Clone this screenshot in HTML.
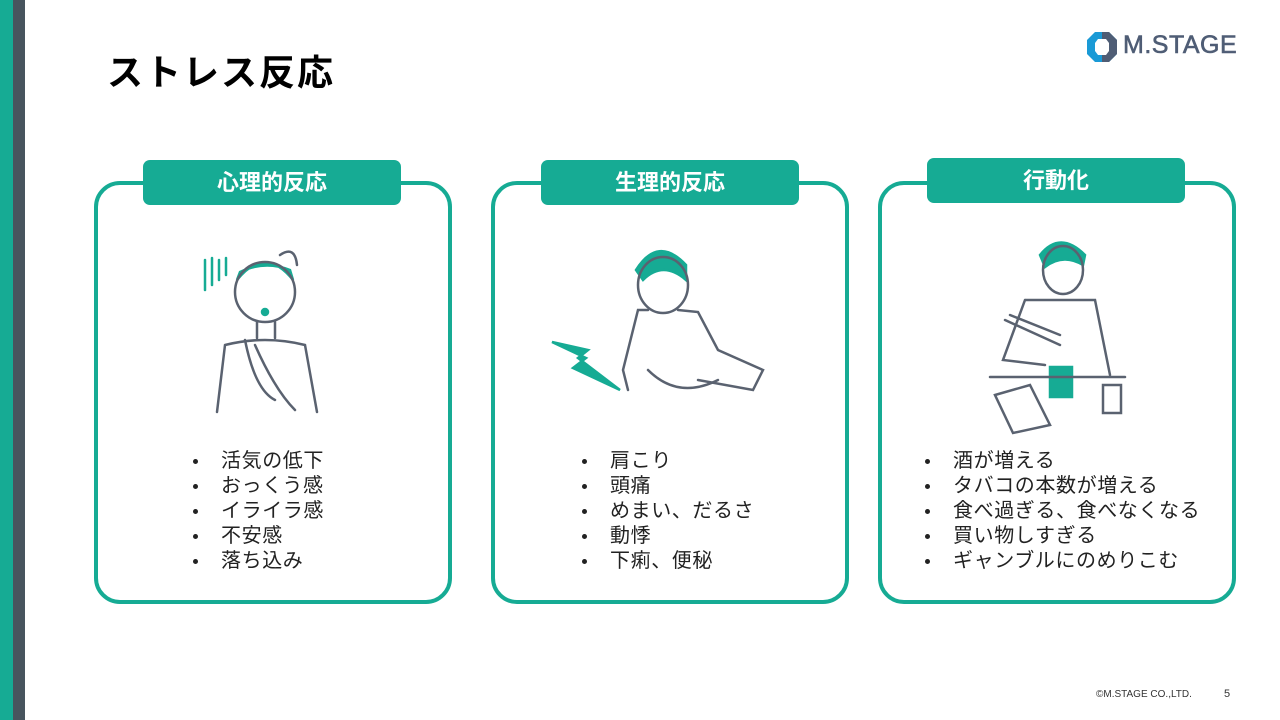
<!DOCTYPE html>
<html><head><meta charset="utf-8"><style>
*{margin:0;padding:0;box-sizing:border-box}
body{width:1280px;height:720px;position:relative;background:#fff;overflow:hidden;font-family:"Liberation Sans","Noto Sans CJK JP",sans-serif}
.a{position:absolute}
.card{position:absolute;border:4px solid #16ab94;border-radius:26px;background:#fff}
.lab{position:absolute;background:#16ab94;border-radius:7px;color:#fff;font-weight:bold;font-size:22px;text-align:center;line-height:45px;height:45px;width:258px}
ul{position:absolute;list-style:none;font-size:20px;letter-spacing:0.6px;line-height:25px;color:#222}
ul li{position:relative;padding-left:28px}
ul li:before{content:"";position:absolute;left:0;top:10px;width:5px;height:5px;border-radius:50%;background:#222}
svg{position:absolute}
</style></head><body>
<div class="a" style="left:0;top:0;width:13px;height:720px;background:#16ab94"></div>
<div class="a" style="left:13px;top:0;width:12px;height:720px;background:#48555e"></div>
<div class="a" style="left:107px;top:44px;font-size:36px;font-weight:bold;color:#000;letter-spacing:2px">ストレス反応</div>
<svg style="left:1086px;top:31px" width="32" height="32" viewBox="0 0 32 32"><polygon points="9,1 23,1 31,9 31,23 23,31 9,31 1,23 1,9" fill="#1a9ad6"/><polygon points="16,1 23,1 31,9 31,23 23,31 16,31" fill="#4f5d75"/><polygon points="12,8 20,8 23,12 23,20 20,24 12,24 9,20 9,12" fill="#fff"/></svg>
<div class="a" style="left:1123px;top:31px;font-size:25px;color:#4f5d75;letter-spacing:0.5px;-webkit-text-stroke:0.6px #4f5d75">M.STAGE</div>

<div class="card" style="left:94px;top:181px;width:358px;height:423px"></div>
<div class="lab" style="left:143px;top:160px">心理的反応</div>
<div class="card" style="left:491px;top:181px;width:358px;height:423px"></div>
<div class="lab" style="left:541px;top:160px">生理的反応</div>
<div class="card" style="left:878px;top:181px;width:358px;height:423px"></div>
<div class="lab" style="left:927px;top:158px">行動化</div>

<svg style="left:195px;top:240px" width="140" height="180" viewBox="0 0 140 180" fill="none" stroke="#5a6270" stroke-width="2.5" stroke-linecap="round">
<g stroke="#16ab94"><line x1="10" y1="20" x2="10" y2="50"/><line x1="17" y1="18" x2="17" y2="45"/><line x1="24" y1="20" x2="24" y2="40"/><line x1="31" y1="18" x2="31" y2="35"/></g>
<path d="M42 40 Q70 5 98 40 L95 30 Q70 20 45 32 Z" fill="#16ab94" stroke="#16ab94"/>
<ellipse cx="70" cy="52" rx="30" ry="30"/>
<path d="M85 15 Q100 5 102 25"/>
<path d="M62 82 L62 98 M80 82 L80 98"/>
<path d="M30 105 Q70 95 110 105 L122 172 M30 105 L22 172"/>
<path d="M50 100 Q60 150 80 160 M60 105 Q80 150 100 170"/>
<circle cx="70" cy="72" r="3" fill="#16ab94" stroke="#16ab94"/>
</svg>
<svg style="left:548px;top:240px" width="220" height="175" viewBox="0 0 220 175" fill="none" stroke="#5a6270" stroke-width="2.5" stroke-linecap="round">
<path d="M88 30 Q110 -5 138 25 L138 40 Q115 20 95 40 Z" fill="#16ab94" stroke="#16ab94"/>
<ellipse cx="115" cy="45" rx="25" ry="28"/>
<path d="M100 70 L90 70 L75 130 L80 150 M130 70 L150 72 L170 110 L215 130 L205 150 L150 140"/>
<path d="M100 130 Q130 160 170 140"/>
<polygon points="4,102 40,110 30,118 72,150 25,128 38,118" fill="#16ab94" stroke="#16ab94"/>
</svg>
<svg style="left:985px;top:235px" width="150" height="200" viewBox="0 0 150 200" fill="none" stroke="#5a6270" stroke-width="2.5" stroke-linecap="round">
<path d="M55 20 Q75 -5 100 20 L98 30 Q78 18 60 32 Z" fill="#16ab94" stroke="#16ab94"/>
<ellipse cx="78" cy="35" rx="20" ry="24"/>
<path d="M40 65 L110 65 L125 140 M40 65 L18 125 L60 130"/>
<line x1="20" y1="85" x2="75" y2="110"/><line x1="25" y1="80" x2="75" y2="100"/>
<rect x="65" y="132" width="22" height="30" fill="#16ab94" stroke="#16ab94"/>
<path d="M10 160 L45 150 L65 190 L28 198 Z"/>
<rect x="118" y="150" width="18" height="28"/>
<line x1="5" y1="142" x2="140" y2="142"/>
</svg>

<ul style="left:193px;top:449px"><li>活気の低下</li><li>おっくう感</li><li>イライラ感</li><li>不安感</li><li>落ち込み</li></ul>
<ul style="left:582px;top:449px"><li>肩こり</li><li>頭痛</li><li>めまい、だるさ</li><li>動悸</li><li>下痢、便秘</li></ul>
<ul style="left:925px;top:449px"><li>酒が増える</li><li>タバコの本数が増える</li><li>食べ過ぎる、食べなくなる</li><li>買い物しすぎる</li><li>ギャンブルにのめりこむ</li></ul>

<div class="a" style="left:1096px;top:689px;font-size:10px;color:#333">©M.STAGE CO.,LTD.</div>
<div class="a" style="left:1224px;top:688px;font-size:11px;color:#333">5</div>
</body></html>
